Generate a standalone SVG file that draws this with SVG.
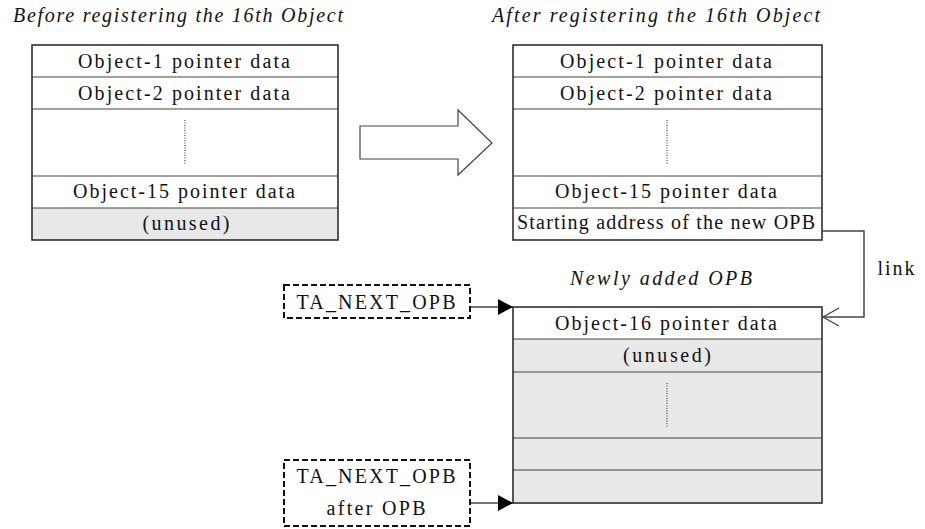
<svg xmlns="http://www.w3.org/2000/svg" width="925" height="529" viewBox="0 0 925 529">
<style>
text{font-family:"Liberation Serif","Times New Roman",serif;font-size:20px;fill:#111}
.t{text-anchor:middle}
.it{font-style:italic}
.frame{fill:none;stroke:#222;stroke-width:1.5}
.row{stroke:#444;stroke-width:1.2}
.gray{fill:#e8e8e8}
.dots{stroke:#222;stroke-width:1;stroke-dasharray:1 1.5}
.dash{fill:#fff;stroke:#111;stroke-width:2;stroke-dasharray:6 3}
.conn{fill:none;stroke:#444;stroke-width:1.5}
</style>
<defs>
<marker id="tri" markerWidth="16" markerHeight="16" refX="15" refY="8" orient="auto" markerUnits="userSpaceOnUse">
<path d="M0,0 L15,8 L0,16 Z" fill="#000"/>
</marker>
<marker id="open" markerWidth="20" markerHeight="20" refX="17" refY="10" orient="auto" markerUnits="userSpaceOnUse">
<path d="M1,1 L17,10 L1,19" fill="none" stroke="#444" stroke-width="1.3"/>
</marker>
</defs>

<g id="title-before"><text class="it" x="13" y="22" textLength="330" lengthAdjust="spacing">Before registering the 16th Object</text></g>
<g id="title-after"><text class="it" x="492" y="22" textLength="328" lengthAdjust="spacing">After registering the 16th Object</text></g>

<g id="table-before">
<rect x="32" y="208" width="306" height="32" class="gray"/>
<line x1="32" y1="77" x2="338" y2="77" class="row"/>
<line x1="32" y1="109" x2="338" y2="109" class="row"/>
<line x1="32" y1="176" x2="338" y2="176" class="row"/>
<line x1="32" y1="208" x2="338" y2="208" class="row"/>
<rect x="32" y="45" width="306" height="195" class="frame"/>
<line x1="185" y1="120" x2="185" y2="165" class="dots"/>
<text class="t" x="184" y="68" textLength="212" lengthAdjust="spacing">Object-1 pointer data</text>
<text class="t" x="184" y="100" textLength="212" lengthAdjust="spacing">Object-2 pointer data</text>
<text class="t" x="184" y="198" textLength="222" lengthAdjust="spacing">Object-15 pointer data</text>
<text class="t" x="186" y="230" textLength="87" lengthAdjust="spacing">(unused)</text>
</g>

<g id="block-arrow">
<polygon points="360,126 458,126 458,110 492,143 458,175 458,159 360,159" fill="#fff" stroke="#444" stroke-width="1.2"/>
</g>

<g id="table-after">
<line x1="513" y1="77" x2="822" y2="77" class="row"/>
<line x1="513" y1="109" x2="822" y2="109" class="row"/>
<line x1="513" y1="176" x2="822" y2="176" class="row"/>
<line x1="513" y1="208" x2="822" y2="208" class="row"/>
<rect x="513" y="45" width="309" height="195" class="frame"/>
<line x1="667" y1="120" x2="667" y2="165" class="dots"/>
<text class="t" x="666" y="68" textLength="212" lengthAdjust="spacing">Object-1 pointer data</text>
<text class="t" x="666" y="100" textLength="212" lengthAdjust="spacing">Object-2 pointer data</text>
<text class="t" x="666" y="198" textLength="222" lengthAdjust="spacing">Object-15 pointer data</text>
<text class="t" x="666" y="229" textLength="298" lengthAdjust="spacing">Starting address of the new OPB</text>
</g>

<g id="label-new-opb"><text class="it t" x="661" y="285" textLength="182" lengthAdjust="spacing">Newly added OPB</text></g>
<g id="label-link"><text class="t" x="896" y="275" textLength="37" lengthAdjust="spacing">link</text></g>

<g id="table-new">
<rect x="513" y="339" width="309" height="164" class="gray"/>
<line x1="513" y1="339" x2="822" y2="339" class="row"/>
<line x1="513" y1="372" x2="822" y2="372" class="row"/>
<line x1="513" y1="438" x2="822" y2="438" class="row"/>
<line x1="513" y1="470" x2="822" y2="470" class="row"/>
<rect x="513" y="307" width="309" height="196" class="frame"/>
<line x1="667" y1="383" x2="667" y2="427" class="dots"/>
<text class="t" x="666" y="330" textLength="222" lengthAdjust="spacing">Object-16 pointer data</text>
<text class="t" x="667" y="362" textLength="88" lengthAdjust="spacing">(unused)</text>
</g>

<g id="ta-next-opb">
<rect x="284" y="285" width="186" height="33" class="dash"/>
<text class="t" x="376" y="309" textLength="159" lengthAdjust="spacing">TA_NEXT_OPB</text>
</g>
<g id="ta-next-opb-after">
<rect x="284" y="460" width="186" height="66" class="dash"/>
<text class="t" x="376" y="483" textLength="159" lengthAdjust="spacing">TA_NEXT_OPB</text>
<text class="t" x="376" y="515" textLength="99" lengthAdjust="spacing">after OPB</text>
</g>

<g id="connectors">
<polyline points="822,231 864,231 864,317 823,317" class="conn" marker-end="url(#open)"/>
<line x1="471" y1="307" x2="513" y2="307" class="conn" marker-end="url(#tri)"/>
<line x1="471" y1="503" x2="513" y2="503" class="conn" marker-end="url(#tri)"/>
</g>
</svg>
